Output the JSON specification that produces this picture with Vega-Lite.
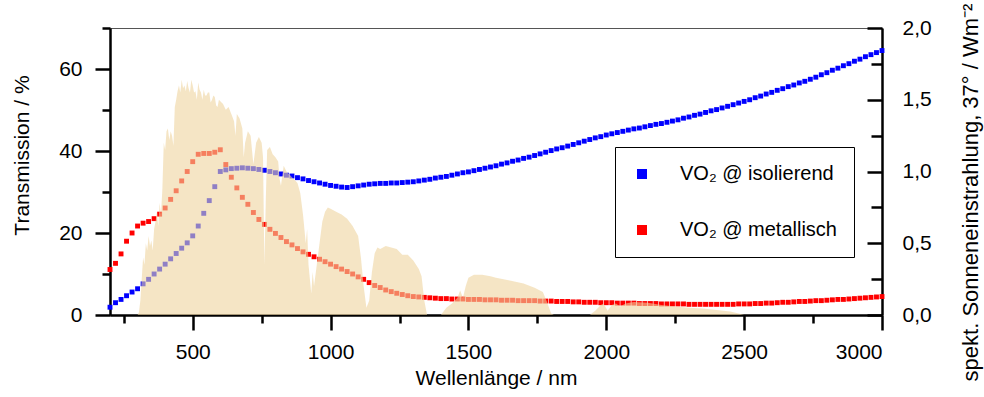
{
  "$schema": "https://vega.github.io/schema/vega-lite/v6.json",
  "width": 772,
  "height": 287,
  "autosize": {"type": "none"},
  "padding": {"left": 110, "top": 28, "right": 102, "bottom": 82},
  "background": "white",
  "config": {"font": "Liberation Sans", "view": {"stroke": "#555", "strokeWidth": 1}},
  "datasets": {
    "trans": [
      {"w":200,"t":1.9,"s":"isolierend"},{"w":220,"t":3.0,"s":"isolierend"},{"w":240,"t":3.8,"s":"isolierend"},{"w":260,"t":4.7,"s":"isolierend"},{"w":280,"t":5.6,"s":"isolierend"},{"w":300,"t":6.4,"s":"isolierend"},{"w":320,"t":7.6,"s":"isolierend"},{"w":340,"t":8.7,"s":"isolierend"},{"w":360,"t":10.0,"s":"isolierend"},{"w":380,"t":11.2,"s":"isolierend"},{"w":400,"t":12.4,"s":"isolierend"},{"w":420,"t":13.7,"s":"isolierend"},{"w":440,"t":15.0,"s":"isolierend"},{"w":460,"t":16.3,"s":"isolierend"},{"w":480,"t":17.6,"s":"isolierend"},{"w":500,"t":19.3,"s":"isolierend"},{"w":520,"t":21.7,"s":"isolierend"},{"w":540,"t":24.8,"s":"isolierend"},{"w":560,"t":27.9,"s":"isolierend"},{"w":580,"t":31.3,"s":"isolierend"},{"w":600,"t":35.0,"s":"isolierend"},{"w":620,"t":35.4,"s":"isolierend"},{"w":640,"t":35.7,"s":"isolierend"},{"w":660,"t":35.8,"s":"isolierend"},{"w":680,"t":35.9,"s":"isolierend"},{"w":700,"t":35.8,"s":"isolierend"},{"w":720,"t":35.7,"s":"isolierend"},{"w":740,"t":35.5,"s":"isolierend"},{"w":760,"t":35.3,"s":"isolierend"},{"w":780,"t":35.0,"s":"isolierend"},{"w":800,"t":34.7,"s":"isolierend"},{"w":820,"t":34.4,"s":"isolierend"},{"w":840,"t":34.1,"s":"isolierend"},{"w":860,"t":33.9,"s":"isolierend"},{"w":880,"t":33.5,"s":"isolierend"},{"w":900,"t":33.2,"s":"isolierend"},{"w":920,"t":32.8,"s":"isolierend"},{"w":940,"t":32.5,"s":"isolierend"},{"w":960,"t":32.2,"s":"isolierend"},{"w":980,"t":31.9,"s":"isolierend"},{"w":1000,"t":31.6,"s":"isolierend"},{"w":1020,"t":31.4,"s":"isolierend"},{"w":1040,"t":31.2,"s":"isolierend"},{"w":1060,"t":31.1,"s":"isolierend"},{"w":1080,"t":31.3,"s":"isolierend"},{"w":1100,"t":31.5,"s":"isolierend"},{"w":1120,"t":31.7,"s":"isolierend"},{"w":1140,"t":31.9,"s":"isolierend"},{"w":1160,"t":32.0,"s":"isolierend"},{"w":1180,"t":32.1,"s":"isolierend"},{"w":1200,"t":32.1,"s":"isolierend"},{"w":1220,"t":32.2,"s":"isolierend"},{"w":1240,"t":32.2,"s":"isolierend"},{"w":1260,"t":32.3,"s":"isolierend"},{"w":1280,"t":32.4,"s":"isolierend"},{"w":1300,"t":32.5,"s":"isolierend"},{"w":1320,"t":32.7,"s":"isolierend"},{"w":1340,"t":32.9,"s":"isolierend"},{"w":1360,"t":33.1,"s":"isolierend"},{"w":1380,"t":33.4,"s":"isolierend"},{"w":1400,"t":33.6,"s":"isolierend"},{"w":1420,"t":33.8,"s":"isolierend"},{"w":1440,"t":34.1,"s":"isolierend"},{"w":1460,"t":34.4,"s":"isolierend"},{"w":1480,"t":34.7,"s":"isolierend"},{"w":1500,"t":34.9,"s":"isolierend"},{"w":1520,"t":35.2,"s":"isolierend"},{"w":1540,"t":35.5,"s":"isolierend"},{"w":1560,"t":35.8,"s":"isolierend"},{"w":1580,"t":36.1,"s":"isolierend"},{"w":1600,"t":36.4,"s":"isolierend"},{"w":1620,"t":36.8,"s":"isolierend"},{"w":1640,"t":37.1,"s":"isolierend"},{"w":1660,"t":37.5,"s":"isolierend"},{"w":1680,"t":37.8,"s":"isolierend"},{"w":1700,"t":38.2,"s":"isolierend"},{"w":1720,"t":38.5,"s":"isolierend"},{"w":1740,"t":38.9,"s":"isolierend"},{"w":1760,"t":39.3,"s":"isolierend"},{"w":1780,"t":39.7,"s":"isolierend"},{"w":1800,"t":40.1,"s":"isolierend"},{"w":1820,"t":40.5,"s":"isolierend"},{"w":1840,"t":40.8,"s":"isolierend"},{"w":1860,"t":41.2,"s":"isolierend"},{"w":1880,"t":41.6,"s":"isolierend"},{"w":1900,"t":42.0,"s":"isolierend"},{"w":1920,"t":42.4,"s":"isolierend"},{"w":1940,"t":42.8,"s":"isolierend"},{"w":1960,"t":43.2,"s":"isolierend"},{"w":1980,"t":43.5,"s":"isolierend"},{"w":2000,"t":43.9,"s":"isolierend"},{"w":2020,"t":44.2,"s":"isolierend"},{"w":2040,"t":44.5,"s":"isolierend"},{"w":2060,"t":44.8,"s":"isolierend"},{"w":2080,"t":45.1,"s":"isolierend"},{"w":2100,"t":45.4,"s":"isolierend"},{"w":2120,"t":45.6,"s":"isolierend"},{"w":2140,"t":45.9,"s":"isolierend"},{"w":2160,"t":46.2,"s":"isolierend"},{"w":2180,"t":46.5,"s":"isolierend"},{"w":2200,"t":46.7,"s":"isolierend"},{"w":2220,"t":47.0,"s":"isolierend"},{"w":2240,"t":47.3,"s":"isolierend"},{"w":2260,"t":47.6,"s":"isolierend"},{"w":2280,"t":48.0,"s":"isolierend"},{"w":2300,"t":48.3,"s":"isolierend"},{"w":2320,"t":48.7,"s":"isolierend"},{"w":2340,"t":49.0,"s":"isolierend"},{"w":2360,"t":49.4,"s":"isolierend"},{"w":2380,"t":49.8,"s":"isolierend"},{"w":2400,"t":50.1,"s":"isolierend"},{"w":2420,"t":50.5,"s":"isolierend"},{"w":2440,"t":50.9,"s":"isolierend"},{"w":2460,"t":51.3,"s":"isolierend"},{"w":2480,"t":51.7,"s":"isolierend"},{"w":2500,"t":52.1,"s":"isolierend"},{"w":2520,"t":52.5,"s":"isolierend"},{"w":2540,"t":53.0,"s":"isolierend"},{"w":2560,"t":53.4,"s":"isolierend"},{"w":2580,"t":53.9,"s":"isolierend"},{"w":2600,"t":54.3,"s":"isolierend"},{"w":2620,"t":54.8,"s":"isolierend"},{"w":2640,"t":55.2,"s":"isolierend"},{"w":2660,"t":55.7,"s":"isolierend"},{"w":2680,"t":56.1,"s":"isolierend"},{"w":2700,"t":56.6,"s":"isolierend"},{"w":2720,"t":57.0,"s":"isolierend"},{"w":2740,"t":57.5,"s":"isolierend"},{"w":2760,"t":58.0,"s":"isolierend"},{"w":2780,"t":58.6,"s":"isolierend"},{"w":2800,"t":59.1,"s":"isolierend"},{"w":2820,"t":59.7,"s":"isolierend"},{"w":2840,"t":60.2,"s":"isolierend"},{"w":2860,"t":60.8,"s":"isolierend"},{"w":2880,"t":61.3,"s":"isolierend"},{"w":2900,"t":61.9,"s":"isolierend"},{"w":2920,"t":62.4,"s":"isolierend"},{"w":2940,"t":63.0,"s":"isolierend"},{"w":2960,"t":63.5,"s":"isolierend"},{"w":2980,"t":64.0,"s":"isolierend"},{"w":3000,"t":64.5,"s":"isolierend"},
      {"w":200,"t":11.1,"s":"metallisch"},{"w":220,"t":12.6,"s":"metallisch"},{"w":240,"t":14.9,"s":"metallisch"},{"w":260,"t":18.0,"s":"metallisch"},{"w":280,"t":20.0,"s":"metallisch"},{"w":300,"t":21.7,"s":"metallisch"},{"w":320,"t":22.4,"s":"metallisch"},{"w":340,"t":22.8,"s":"metallisch"},{"w":360,"t":23.5,"s":"metallisch"},{"w":380,"t":24.6,"s":"metallisch"},{"w":400,"t":26.1,"s":"metallisch"},{"w":420,"t":28.2,"s":"metallisch"},{"w":440,"t":30.3,"s":"metallisch"},{"w":460,"t":32.7,"s":"metallisch"},{"w":480,"t":35.0,"s":"metallisch"},{"w":500,"t":37.4,"s":"metallisch"},{"w":520,"t":39.2,"s":"metallisch"},{"w":540,"t":39.4,"s":"metallisch"},{"w":560,"t":39.4,"s":"metallisch"},{"w":580,"t":39.7,"s":"metallisch"},{"w":600,"t":40.3,"s":"metallisch"},{"w":620,"t":36.7,"s":"metallisch"},{"w":640,"t":33.6,"s":"metallisch"},{"w":660,"t":31.0,"s":"metallisch"},{"w":680,"t":28.7,"s":"metallisch"},{"w":700,"t":27.0,"s":"metallisch"},{"w":720,"t":25.0,"s":"metallisch"},{"w":740,"t":23.3,"s":"metallisch"},{"w":760,"t":22.1,"s":"metallisch"},{"w":780,"t":20.9,"s":"metallisch"},{"w":800,"t":19.9,"s":"metallisch"},{"w":820,"t":18.9,"s":"metallisch"},{"w":840,"t":17.9,"s":"metallisch"},{"w":860,"t":17.1,"s":"metallisch"},{"w":880,"t":16.2,"s":"metallisch"},{"w":900,"t":15.4,"s":"metallisch"},{"w":920,"t":14.8,"s":"metallisch"},{"w":940,"t":14.2,"s":"metallisch"},{"w":960,"t":13.6,"s":"metallisch"},{"w":980,"t":13.0,"s":"metallisch"},{"w":1000,"t":12.4,"s":"metallisch"},{"w":1020,"t":11.8,"s":"metallisch"},{"w":1040,"t":11.2,"s":"metallisch"},{"w":1060,"t":10.6,"s":"metallisch"},{"w":1080,"t":10.0,"s":"metallisch"},{"w":1100,"t":9.3,"s":"metallisch"},{"w":1120,"t":8.7,"s":"metallisch"},{"w":1140,"t":7.9,"s":"metallisch"},{"w":1160,"t":7.2,"s":"metallisch"},{"w":1180,"t":6.7,"s":"metallisch"},{"w":1200,"t":6.1,"s":"metallisch"},{"w":1220,"t":5.7,"s":"metallisch"},{"w":1240,"t":5.3,"s":"metallisch"},{"w":1260,"t":5.0,"s":"metallisch"},{"w":1280,"t":4.7,"s":"metallisch"},{"w":1300,"t":4.5,"s":"metallisch"},{"w":1320,"t":4.4,"s":"metallisch"},{"w":1340,"t":4.3,"s":"metallisch"},{"w":1360,"t":4.2,"s":"metallisch"},{"w":1380,"t":4.1,"s":"metallisch"},{"w":1400,"t":4.0,"s":"metallisch"},{"w":1420,"t":4.0,"s":"metallisch"},{"w":1440,"t":3.9,"s":"metallisch"},{"w":1460,"t":3.9,"s":"metallisch"},{"w":1480,"t":3.9,"s":"metallisch"},{"w":1500,"t":3.8,"s":"metallisch"},{"w":1520,"t":3.8,"s":"metallisch"},{"w":1540,"t":3.8,"s":"metallisch"},{"w":1560,"t":3.7,"s":"metallisch"},{"w":1580,"t":3.7,"s":"metallisch"},{"w":1600,"t":3.7,"s":"metallisch"},{"w":1620,"t":3.6,"s":"metallisch"},{"w":1640,"t":3.6,"s":"metallisch"},{"w":1660,"t":3.6,"s":"metallisch"},{"w":1680,"t":3.5,"s":"metallisch"},{"w":1700,"t":3.5,"s":"metallisch"},{"w":1720,"t":3.5,"s":"metallisch"},{"w":1740,"t":3.5,"s":"metallisch"},{"w":1760,"t":3.4,"s":"metallisch"},{"w":1780,"t":3.4,"s":"metallisch"},{"w":1800,"t":3.4,"s":"metallisch"},{"w":1820,"t":3.3,"s":"metallisch"},{"w":1840,"t":3.3,"s":"metallisch"},{"w":1860,"t":3.3,"s":"metallisch"},{"w":1880,"t":3.2,"s":"metallisch"},{"w":1900,"t":3.2,"s":"metallisch"},{"w":1920,"t":3.1,"s":"metallisch"},{"w":1940,"t":3.1,"s":"metallisch"},{"w":1960,"t":3.1,"s":"metallisch"},{"w":1980,"t":3.0,"s":"metallisch"},{"w":2000,"t":3.0,"s":"metallisch"},{"w":2020,"t":3.0,"s":"metallisch"},{"w":2040,"t":2.9,"s":"metallisch"},{"w":2060,"t":2.9,"s":"metallisch"},{"w":2080,"t":2.9,"s":"metallisch"},{"w":2100,"t":2.9,"s":"metallisch"},{"w":2120,"t":2.8,"s":"metallisch"},{"w":2140,"t":2.8,"s":"metallisch"},{"w":2160,"t":2.8,"s":"metallisch"},{"w":2180,"t":2.8,"s":"metallisch"},{"w":2200,"t":2.7,"s":"metallisch"},{"w":2220,"t":2.7,"s":"metallisch"},{"w":2240,"t":2.7,"s":"metallisch"},{"w":2260,"t":2.7,"s":"metallisch"},{"w":2280,"t":2.7,"s":"metallisch"},{"w":2300,"t":2.6,"s":"metallisch"},{"w":2320,"t":2.6,"s":"metallisch"},{"w":2340,"t":2.6,"s":"metallisch"},{"w":2360,"t":2.6,"s":"metallisch"},{"w":2380,"t":2.6,"s":"metallisch"},{"w":2400,"t":2.6,"s":"metallisch"},{"w":2420,"t":2.6,"s":"metallisch"},{"w":2440,"t":2.6,"s":"metallisch"},{"w":2460,"t":2.6,"s":"metallisch"},{"w":2480,"t":2.7,"s":"metallisch"},{"w":2500,"t":2.7,"s":"metallisch"},{"w":2520,"t":2.7,"s":"metallisch"},{"w":2540,"t":2.8,"s":"metallisch"},{"w":2560,"t":2.8,"s":"metallisch"},{"w":2580,"t":2.9,"s":"metallisch"},{"w":2600,"t":2.9,"s":"metallisch"},{"w":2620,"t":3.0,"s":"metallisch"},{"w":2640,"t":3.1,"s":"metallisch"},{"w":2660,"t":3.1,"s":"metallisch"},{"w":2680,"t":3.2,"s":"metallisch"},{"w":2700,"t":3.3,"s":"metallisch"},{"w":2720,"t":3.3,"s":"metallisch"},{"w":2740,"t":3.4,"s":"metallisch"},{"w":2760,"t":3.5,"s":"metallisch"},{"w":2780,"t":3.5,"s":"metallisch"},{"w":2800,"t":3.6,"s":"metallisch"},{"w":2820,"t":3.7,"s":"metallisch"},{"w":2840,"t":3.8,"s":"metallisch"},{"w":2860,"t":3.8,"s":"metallisch"},{"w":2880,"t":3.9,"s":"metallisch"},{"w":2900,"t":4.0,"s":"metallisch"},{"w":2920,"t":4.1,"s":"metallisch"},{"w":2940,"t":4.2,"s":"metallisch"},{"w":2960,"t":4.3,"s":"metallisch"},{"w":2980,"t":4.4,"s":"metallisch"},{"w":3000,"t":4.5,"s":"metallisch"}
    ],
    "solar": [
      {"w":300,"e":0},{"w":305,"e":0.02},{"w":310,"e":0.1},{"w":315,"e":0.25},{"w":320,"e":0.4},{"w":325,"e":0.35},{"w":330,"e":0.5},{"w":335,"e":0.45},{"w":340,"e":0.55},{"w":345,"e":0.48},{"w":350,"e":0.52},{"w":355,"e":0.45},{"w":360,"e":0.6},{"w":365,"e":0.65},{"w":370,"e":0.72},{"w":375,"e":0.62},{"w":380,"e":0.78},{"w":385,"e":0.7},{"w":390,"e":0.88},{"w":395,"e":1.2},{"w":400,"e":1.15},{"w":405,"e":1.28},{"w":410,"e":1.3},{"w":415,"e":1.22},{"w":420,"e":1.28},{"w":425,"e":1.25},{"w":430,"e":1.18},{"w":435,"e":1.45},{"w":440,"e":1.5},{"w":445,"e":1.56},{"w":450,"e":1.6},{"w":455,"e":1.55},{"w":460,"e":1.64},{"w":465,"e":1.58},{"w":470,"e":1.6},{"w":475,"e":1.56},{"w":480,"e":1.63},{"w":485,"e":1.58},{"w":490,"e":1.55},{"w":495,"e":1.64},{"w":500,"e":1.6},{"w":505,"e":1.55},{"w":510,"e":1.56},{"w":515,"e":1.5},{"w":520,"e":1.62},{"w":525,"e":1.57},{"w":530,"e":1.55},{"w":535,"e":1.5},{"w":540,"e":1.57},{"w":545,"e":1.53},{"w":550,"e":1.53},{"w":555,"e":1.55},{"w":560,"e":1.55},{"w":565,"e":1.48},{"w":570,"e":1.5},{"w":575,"e":1.53},{"w":580,"e":1.52},{"w":585,"e":1.46},{"w":590,"e":1.45},{"w":595,"e":1.5},{"w":600,"e":1.49},{"w":610,"e":1.47},{"w":620,"e":1.43},{"w":630,"e":1.45},{"w":640,"e":1.4},{"w":650,"e":1.35},{"w":655,"e":1.25},{"w":660,"e":1.4},{"w":670,"e":1.37},{"w":680,"e":1.3},{"w":685,"e":1.1},{"w":690,"e":1.2},{"w":700,"e":1.28},{"w":710,"e":1.25},{"w":720,"e":1.05},{"w":730,"e":1.2},{"w":740,"e":1.24},{"w":750,"e":1.2},{"w":755,"e":1.1},{"w":760,"e":0.35},{"w":765,"e":0.8},{"w":770,"e":1.15},{"w":780,"e":1.17},{"w":790,"e":1.12},{"w":800,"e":1.1},{"w":810,"e":1.07},{"w":815,"e":0.95},{"w":820,"e":0.9},{"w":830,"e":1.04},{"w":840,"e":1.0},{"w":850,"e":0.98},{"w":860,"e":0.96},{"w":870,"e":0.94},{"w":880,"e":0.92},{"w":890,"e":0.85},{"w":900,"e":0.7},{"w":910,"e":0.5},{"w":915,"e":0.6},{"w":920,"e":0.35},{"w":930,"e":0.15},{"w":935,"e":0.3},{"w":940,"e":0.2},{"w":950,"e":0.35},{"w":960,"e":0.5},{"w":970,"e":0.65},{"w":980,"e":0.72},{"w":990,"e":0.75},{"w":1000,"e":0.74},{"w":1020,"e":0.72},{"w":1040,"e":0.7},{"w":1060,"e":0.67},{"w":1080,"e":0.62},{"w":1100,"e":0.55},{"w":1110,"e":0.4},{"w":1120,"e":0.2},{"w":1130,"e":0.05},{"w":1140,"e":0.1},{"w":1150,"e":0.3},{"w":1160,"e":0.43},{"w":1170,"e":0.47},{"w":1180,"e":0.46},{"w":1200,"e":0.48},{"w":1220,"e":0.47},{"w":1240,"e":0.46},{"w":1260,"e":0.42},{"w":1280,"e":0.42},{"w":1300,"e":0.38},{"w":1320,"e":0.32},{"w":1330,"e":0.27},{"w":1340,"e":0.1},{"w":1350,"e":0},{"w":1400,"e":0},{"w":1420,"e":0.05},{"w":1440,"e":0.08},{"w":1460,"e":0.12},{"w":1470,"e":0.17},{"w":1480,"e":0.12},{"w":1490,"e":0.2},{"w":1500,"e":0.26},{"w":1520,"e":0.28},{"w":1550,"e":0.28},{"w":1580,"e":0.27},{"w":1600,"e":0.26},{"w":1650,"e":0.24},{"w":1700,"e":0.22},{"w":1740,"e":0.19},{"w":1770,"e":0.16},{"w":1785,"e":0.09},{"w":1800,"e":0.01},{"w":1810,"e":0},{"w":1940,"e":0},{"w":1960,"e":0.03},{"w":1980,"e":0.07},{"w":1990,"e":0.08},{"w":2005,"e":0.03},{"w":2020,"e":0.07},{"w":2035,"e":0.08},{"w":2050,"e":0.06},{"w":2070,"e":0.08},{"w":2100,"e":0.09},{"w":2150,"e":0.085},{"w":2200,"e":0.07},{"w":2250,"e":0.06},{"w":2300,"e":0.05},{"w":2350,"e":0.045},{"w":2400,"e":0.035},{"w":2450,"e":0.025},{"w":2480,"e":0.01},{"w":2500,"e":0},{"w":3000,"e":0}
    ]
  },
  "layer": [
    {
      "data": {"name": "trans"},
      "mark": {"type": "point", "shape": "square", "filled": true, "size": 24, "opacity": 1, "strokeWidth": 0},
      "encoding": {
        "x": {
          "field": "w", "type": "quantitative",
          "scale": {"domain": [200, 3000], "nice": false, "zero": false},
          "axis": {
            "values": [250,500,750,1000,1250,1500,1750,2000,2250,2500,2750,3000],
            "format": "d",
            "labelExpr": "datum.value % 500 === 0 ? datum.label : ''",
            "tickSize": {"condition": {"test": "datum.value % 500 === 0", "value": 15}, "value": 8},
            "labelPadding": 11,
            "domainColor": "black", "domainWidth": 2.5,
            "tickColor": "black", "tickWidth": 2.5,
            "labelFontSize": 21, "labelColor": "black", "labelFont": "Liberation Sans",
            "grid": false,
            "title": "Wellenlänge / nm",
            "titleFontSize": 21, "titleFontWeight": "normal", "titleColor": "black", "titleFont": "Liberation Sans",
            "titleX": 386, "titleY": 63, "titleBaseline": "middle", "titleAlign": "center"
          }
        },
        "y": {
          "field": "t", "type": "quantitative",
          "scale": {"domain": [0, 70], "nice": false},
          "axis": {
            "orient": "left",
            "values": [0,10,20,30,40,50,60,70],
            "labelExpr": "datum.value % 20 === 0 ? datum.label : ''",
            "tickSize": {"condition": {"test": "datum.value % 20 === 0", "value": 15}, "value": 8},
            "labelPadding": 13,
            "domainColor": "black", "domainWidth": 2.5,
            "tickColor": "black", "tickWidth": 2.5,
            "labelFontSize": 21, "labelColor": "black", "labelFont": "Liberation Sans",
            "grid": false,
            "title": "Transmission / %",
            "titleFontSize": 21, "titleFontWeight": "normal", "titleColor": "black", "titleFont": "Liberation Sans",
            "titleX": -88, "titleY": 127, "titleAngle": -90, "titleBaseline": "middle", "titleAlign": "center"
          }
        },
        "color": {
          "field": "s", "type": "nominal",
          "scale": {"domain": ["isolierend", "metallisch"], "range": ["#0000FF", "#FF0000"]},
          "legend": {
            "title": null,
            "orient": "none", "legendX": 505, "legendY": 119,
            "strokeColor": "black", "fillColor": "white", "padding": 17,
            "symbolType": "square", "symbolSize": 100, "symbolOpacity": 1, "symbolStrokeWidth": 0,
            "labelExpr": "'VO₂ @ ' + datum.label",
            "labelFontSize": 20, "labelColor": "black", "labelFont": "Liberation Sans",
            "labelOffset": 28, "rowPadding": 36
          }
        }
      }
    },
    {
      "data": {"name": "solar"},
      "mark": {"type": "area", "color": "#EED49F", "opacity": 0.6, "interpolate": "linear"},
      "encoding": {
        "x": {"field": "w", "type": "quantitative"},
        "y": {
          "field": "e", "type": "quantitative",
          "scale": {"domain": [0, 2], "nice": false},
          "axis": {
            "orient": "right",
            "values": [0,0.25,0.5,0.75,1,1.25,1.5,1.75,2],
            "labelExpr": "(datum.value * 2) % 1 === 0 ? replace(format(datum.value, '.1f'), '.', ',') : ''",
            "tickSize": {"condition": {"test": "(datum.value * 2) % 1 === 0", "value": -15}, "value": -11},
            "labelPadding": 35,
            "domainColor": "black", "domainWidth": 2.5,
            "tickColor": "black", "tickWidth": 2.5,
            "labelFontSize": 21, "labelColor": "black", "labelFont": "Liberation Sans",
            "grid": false,
            "title": "spekt. Sonneneinstrahlung, 37° / Wm⁻²",
            "titleFontSize": 22, "titleFontWeight": "normal", "titleColor": "black", "titleFont": "Liberation Sans",
            "titleX": 88, "titleY": 164, "titleAngle": -90, "titleBaseline": "middle", "titleAlign": "center"
          }
        }
      }
    }
  ],
  "resolve": {"scale": {"y": "independent"}, "axis": {"y": "independent"}}
}
